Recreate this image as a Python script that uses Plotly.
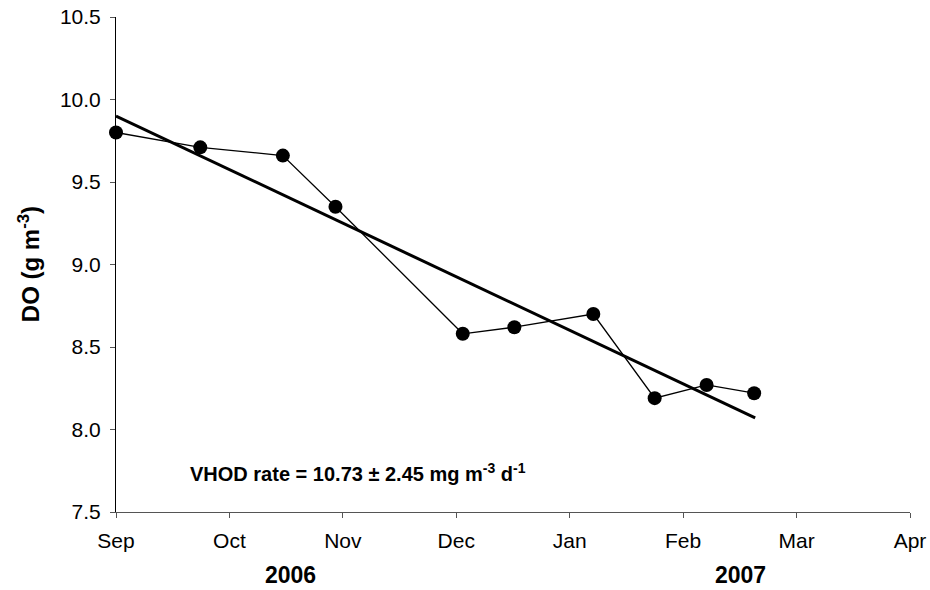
import plotly.graph_objects as go

# Data (x in months since 1 Sep 2006)
sample_month = [0.0, 0.743, 1.471, 1.935, 3.057, 3.512, 4.208, 4.749, 5.207, 5.626]
do_values = [9.80, 9.71, 9.66, 9.35, 8.58, 8.62, 8.70, 8.19, 8.27, 8.22]
trend_month = [0.0, 5.635]
trend_do = [9.90, 8.07]
month_ticks = [0, 1, 2, 3, 4, 5, 6, 7]
month_labels = ["Sep", "Oct", "Nov", "Dec", "Jan", "Feb", "Mar", "Apr"]
y_ticks = [7.5, 8.0, 8.5, 9.0, 9.5, 10.0, 10.5]
year_labels = ["2006", "2007"]

FONT = "Liberation Sans, Arial, sans-serif"

fig = go.Figure()
fig.add_trace(go.Scatter(
    x=sample_month, y=do_values, mode="lines+markers",
    line=dict(color="black", width=1.3),
    marker=dict(color="black", size=14),
    cliponaxis=False, showlegend=False,
))
fig.add_trace(go.Scatter(
    x=trend_month, y=trend_do, mode="lines",
    line=dict(color="black", width=3),
    cliponaxis=False, showlegend=False,
))

fig.update_layout(
    width=930, height=590, autosize=False,
    margin=dict(l=116, r=20, t=17, b=78, pad=0, autoexpand=False),
    plot_bgcolor="white", paper_bgcolor="white",
    font=dict(family=FONT, size=21, color="black"),
    xaxis=dict(
        range=[0, 7], tickmode="array", tickvals=month_ticks, ticktext=month_labels,
        showgrid=False, zeroline=False, showline=True, linecolor="#555", linewidth=1,
        ticks="outside", ticklen=5, tickcolor="#555", tickwidth=1, automargin=False,
        tickfont=dict(size=21, family=FONT), ticklabelstandoff=5,
    ),
    yaxis=dict(
        range=[7.5, 10.5], tickmode="array", tickvals=y_ticks,
        ticktext=[f"{v:.1f}" for v in y_ticks],
        showgrid=False, zeroline=False, showline=True, linecolor="black", linewidth=1,
        ticks="outside", ticklen=5, tickcolor="#555", tickwidth=1, automargin=False,
        tickfont=dict(size=21, family=FONT), ticklabelstandoff=5,
    ),
)

fig.add_annotation(
    text="<b>DO (g m<sup>-3</sup>)</b>", xref="paper", yref="paper",
    x=-0.11, y=0.5, xanchor="center", yanchor="middle", textangle=-90,
    showarrow=False, font=dict(size=24, family=FONT),
)
fig.add_annotation(
    text="<b>VHOD rate = 10.73 ± 2.45 mg m<sup>-3</sup> d<sup>-1</sup></b>",
    xref="paper", yref="paper", x=0.091, y=0.080, xanchor="left", yanchor="middle",
    showarrow=False, font=dict(size=20, family=FONT),
)
for lbl, px in zip(year_labels, [0.2204, 0.787]):
    fig.add_annotation(
        text=f"<b>{lbl}</b>", xref="paper", yref="paper", x=px, y=-0.128,
        xanchor="center", yanchor="middle", showarrow=False,
        font=dict(size=23, family=FONT),
    )

fig.write_html("out.html", config={"displayModeBar": False},
               post_script="document.body.style.margin='0';")
